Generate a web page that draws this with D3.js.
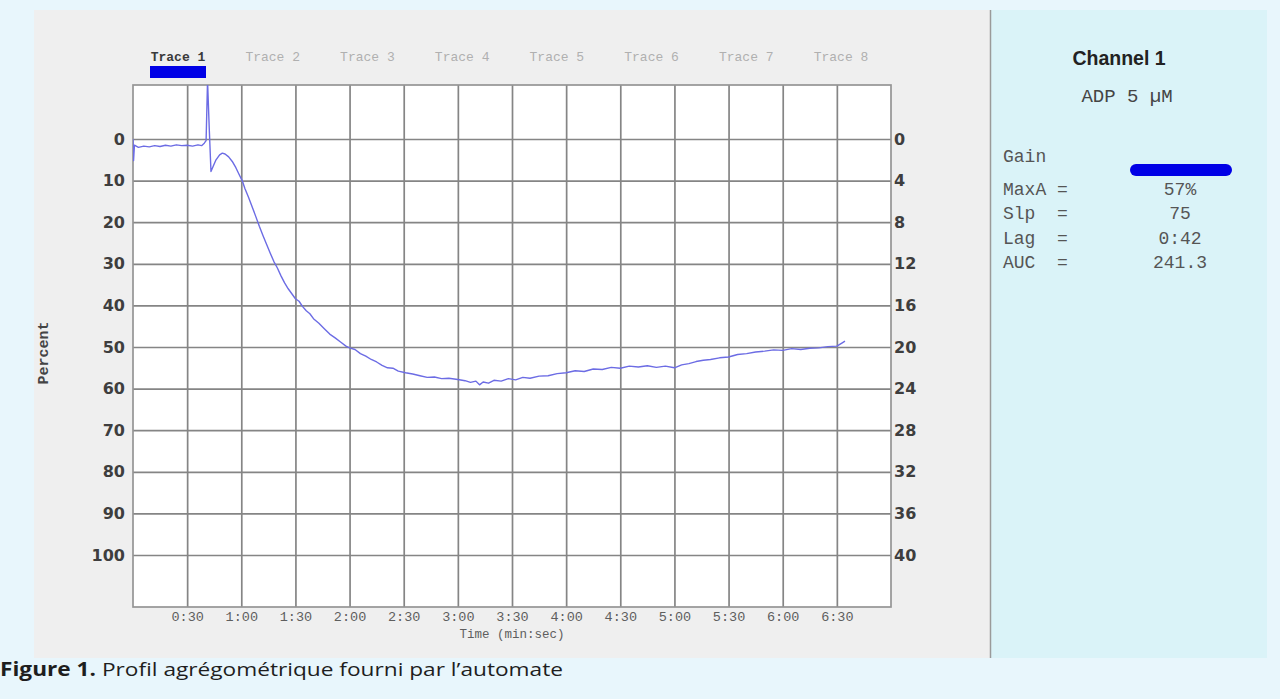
<!DOCTYPE html>
<html>
<head>
<meta charset="utf-8">
<script src="https://cdn.jsdelivr.net/npm/d3@7"></script>
<style>
  body { margin: 0; background: #e8f6fc; }
  svg { display: block; }
</style>
</head>
<body>
<div id="vis"></div>
<script>
// Trace: time in seconds, aggregation in percent
const timeSec = [0, 0.3, 0.8, 3, 6, 9, 12, 15, 18, 21, 24, 27, 30, 33, 36, 38, 39.5, 40.5, 41.3, 42.3, 43.2,
  44.5, 46, 48, 49.5, 51, 53, 55, 57, 59, 60.5, 62, 64, 66, 68, 70, 72, 74, 76, 78, 80, 82, 84, 86, 88, 90,
  92, 94, 96, 98, 100, 103, 106, 109, 112, 115, 118, 120, 123, 126, 129, 132, 135, 138, 141, 144, 147, 151,
  155, 159, 163, 167, 171, 175, 180, 184, 187, 190, 192, 194, 197, 200, 204, 208, 212, 216, 220, 225, 230,
  235, 240, 245, 250, 255, 260, 265, 270, 275, 280, 285, 290, 295, 300, 304, 308, 312, 316, 320, 325, 330,
  335, 340, 345, 350, 355, 360, 365, 370, 375, 380, 385, 390, 393, 394.5];
const percent = [0, 5.2, 1.5, 2.0, 1.7, 1.9, 1.6, 1.8, 1.5, 1.7, 1.4, 1.6, 1.5, 1.7, 1.4, 1.6, 1.0, 0.4, -14, -2, 7.8,
  6.5, 5.0, 3.8, 3.4, 3.6, 4.3, 5.4, 6.9, 8.7, 10.0, 11.9, 14.0, 16.3, 18.6, 21.0, 23.2, 25.3, 27.4, 29.4, 31.0, 32.9, 34.6, 36.0, 37.2, 38.4,
  39.0, 40.3, 41.3, 42.0, 43.2, 44.3, 45.6, 46.9, 47.8, 48.8, 49.8, 50.2, 50.6, 51.6, 52.2, 53.0, 53.6, 54.4, 55.0, 55.1, 55.8, 56.2,
  56.5, 56.9, 57.3, 57.2, 57.6, 57.5, 57.8, 58.1, 58.5, 58.2, 59.1, 58.4, 58.7, 58.0, 58.2, 57.6, 57.9, 57.3, 57.5, 57.0, 56.9,
  56.4, 56.2, 55.7, 55.9, 55.3, 55.4, 54.9, 55.1, 54.6, 54.8, 54.5, 54.9, 54.6, 55.0, 54.3, 54.0, 53.5, 53.2, 53.0, 52.6, 52.4,
  51.8, 51.6, 51.2, 51.0, 50.7, 50.8, 50.4, 50.6, 50.3, 50.2, 49.9, 49.8, 49.0, 48.6];

const leftTicks = [0, 10, 20, 30, 40, 50, 60, 70, 80, 90, 100];
const rightTicks = [0, 4, 8, 12, 16, 20, 24, 28, 32, 36, 40];
const timeTicks = [30, 60, 90, 120, 150, 180, 210, 240, 270, 300, 330, 360, 390];
const traceNames = ["Trace 1", "Trace 2", "Trace 3", "Trace 4", "Trace 5", "Trace 6", "Trace 7", "Trace 8"];
const statLabels = ["MaxA =", "Slp  =", "Lag  =", "AUC  ="];
const statValues = ["57%", "75", "0:42", "241.3"];

const W = 1280, H = 699;
const plot = { left: 133, right: 891, top: 85, bottom: 607 };
const mono = "'Liberation Mono', 'DejaVu Sans Mono', monospace";

const svg = d3.select("#vis").append("svg").attr("width", W).attr("height", H);

// panels
svg.append("rect").attr("x", 34).attr("y", 10).attr("width", 956).attr("height", 648).attr("fill", "#efefef");
svg.append("rect").attr("x", 990).attr("y", 10).attr("width", 277).attr("height", 648).attr("fill", "#daf3f8");
svg.append("line").attr("x1", 990.5).attr("x2", 990.5).attr("y1", 10).attr("y2", 658)
    .attr("stroke", "#9a9a9a").attr("stroke-width", 1.5);

const x = d3.scaleLinear().domain([0, 420]).range([plot.left, plot.right]);
const y = d3.scaleLinear().domain([0, 100]).range([139, 555]);
const yR = d3.scaleLinear().domain([0, 40]).range([139, 555]);

svg.append("rect")
    .attr("x", plot.left).attr("y", plot.top)
    .attr("width", plot.right - plot.left).attr("height", plot.bottom - plot.top)
    .attr("fill", "#fff");

// grid
svg.append("g")
    .attr("transform", `translate(${plot.left},0)`)
    .call(d3.axisLeft(y).tickValues(leftTicks).tickSize(-(plot.right - plot.left)).tickFormat(""))
    .call(g => g.select(".domain").remove())
    .selectAll("line").attr("stroke", "#858585").attr("stroke-width", 1.7);

svg.append("g")
    .attr("transform", `translate(0,${plot.bottom})`)
    .call(d3.axisBottom(x).tickValues(timeTicks).tickSize(-(plot.bottom - plot.top)).tickFormat(""))
    .call(g => g.select(".domain").remove())
    .selectAll("line").attr("stroke", "#858585").attr("stroke-width", 1.7);

svg.append("rect")
    .attr("x", plot.left).attr("y", plot.top)
    .attr("width", plot.right - plot.left).attr("height", plot.bottom - plot.top)
    .attr("fill", "none").attr("stroke", "#959595").attr("stroke-width", 1.7);

// axis labels
const leftAxis = svg.append("g")
    .attr("transform", `translate(${plot.left},0)`)
    .call(d3.axisLeft(y).tickValues(leftTicks).tickSize(0).tickPadding(8));
leftAxis.select(".domain").remove();
leftAxis.selectAll("text")
    .attr("font-family", "'DejaVu Sans', Verdana, sans-serif").attr("font-weight", "bold")
    .attr("font-size", 16).attr("fill", "#3e3e3e");

const rightAxis = svg.append("g")
    .attr("transform", `translate(${plot.right},0)`)
    .call(d3.axisRight(yR).tickValues(rightTicks).tickSize(0).tickPadding(3));
rightAxis.select(".domain").remove();
rightAxis.selectAll("text")
    .attr("font-family", "'DejaVu Sans', Verdana, sans-serif").attr("font-weight", "bold")
    .attr("font-size", 16).attr("fill", "#3e3e3e");

const fmtTime = s => `${Math.floor(s / 60)}:${String(s % 60).padStart(2, "0")}`;
const bottomAxis = svg.append("g")
    .attr("transform", `translate(0,${plot.bottom})`)
    .call(d3.axisBottom(x).tickValues(timeTicks).tickSize(0).tickPadding(4).tickFormat(fmtTime));
bottomAxis.select(".domain").remove();
bottomAxis.selectAll("text")
    .attr("font-family", mono).attr("font-size", 13.5).attr("fill", "#5e5e5e");

svg.append("text")
    .attr("x", (plot.left + plot.right) / 2).attr("y", 638)
    .attr("text-anchor", "middle")
    .attr("font-family", mono).attr("font-size", 12.5).attr("fill", "#5e5e5e")
    .text("Time (min:sec)");

svg.append("text")
    .attr("transform", "translate(48,353) rotate(-90)")
    .attr("text-anchor", "middle")
    .attr("font-family", mono).attr("font-weight", "bold").attr("font-size", 15).attr("fill", "#444")
    .text("Percent");

// trace selector
const traceX = d3.scalePoint().domain(traceNames).range([178, 841]);
svg.selectAll(".trace-label")
    .data(traceNames)
    .enter().append("text")
    .attr("class", "trace-label")
    .attr("x", d => traceX(d)).attr("y", 61)
    .attr("text-anchor", "middle")
    .attr("font-family", mono).attr("font-size", 13)
    .attr("font-weight", (d, i) => i === 0 ? "bold" : "normal")
    .attr("fill", (d, i) => i === 0 ? "#3a3a3a" : "#b0b0b0")
    .text(d => d);
svg.append("rect")
    .attr("x", traceX(traceNames[0]) - 28).attr("y", 66)
    .attr("width", 56).attr("height", 12)
    .attr("fill", "#0000e6");

// trace line
svg.append("clipPath").attr("id", "clip")
    .append("rect")
    .attr("x", plot.left).attr("y", plot.top)
    .attr("width", plot.right - plot.left).attr("height", plot.bottom - plot.top);

const line = d3.line()
    .x((d, i) => x(timeSec[i]))
    .y(d => y(d));

svg.append("path")
    .datum(percent)
    .attr("clip-path", "url(#clip)")
    .attr("fill", "none")
    .attr("stroke", "#6c6ce4")
    .attr("stroke-width", 1.4)
    .attr("stroke-linejoin", "round")
    .attr("d", line);

// channel panel
svg.append("text")
    .attr("x", 1119).attr("y", 65)
    .attr("text-anchor", "middle")
    .attr("font-family", "'Liberation Sans', Arial, sans-serif").attr("font-weight", "bold")
    .attr("font-size", 19.5).attr("fill", "#222")
    .text("Channel 1");

svg.append("text")
    .attr("x", 1127).attr("y", 102)
    .attr("text-anchor", "middle")
    .attr("font-family", mono).attr("font-size", 19).attr("fill", "#444")
    .text("ADP 5\u00a0µM");

svg.append("text")
    .attr("x", 1003).attr("y", 162)
    .attr("font-family", mono).attr("font-size", 18).attr("fill", "#555")
    .text("Gain");

svg.append("rect")
    .attr("x", 1130).attr("y", 164)
    .attr("width", 102).attr("height", 12).attr("rx", 6)
    .attr("fill", "#0000e6");

const rowY = d3.scalePoint().domain(statLabels).range([195, 268]);
svg.selectAll(".stat-label")
    .data(statLabels)
    .enter().append("text")
    .attr("class", "stat-label")
    .attr("x", 1003).attr("y", d => rowY(d))
    .attr("xml:space", "preserve")
    .style("white-space", "pre")
    .attr("font-family", mono).attr("font-size", 18).attr("fill", "#555")
    .text(d => d);

svg.selectAll(".stat-value")
    .data(statValues)
    .enter().append("text")
    .attr("class", "stat-value")
    .attr("x", 1180).attr("y", (d, i) => rowY(statLabels[i]))
    .attr("text-anchor", "middle")
    .attr("font-family", mono).attr("font-size", 18).attr("fill", "#555")
    .text(d => d);

// caption
const cap = svg.append("text")
    .attr("x", 0).attr("y", 676)
    .attr("textLength", 563).attr("lengthAdjust", "spacingAndGlyphs")
    .attr("font-family", "'Open Sans', Lato, sans-serif").attr("font-size", 19).attr("fill", "#1e1e1e");
cap.append("tspan").attr("font-weight", "bold").text("Figure 1.");
cap.append("tspan").text(" Profil agrégométrique fourni par l’automate");
</script>
</body>
</html>
